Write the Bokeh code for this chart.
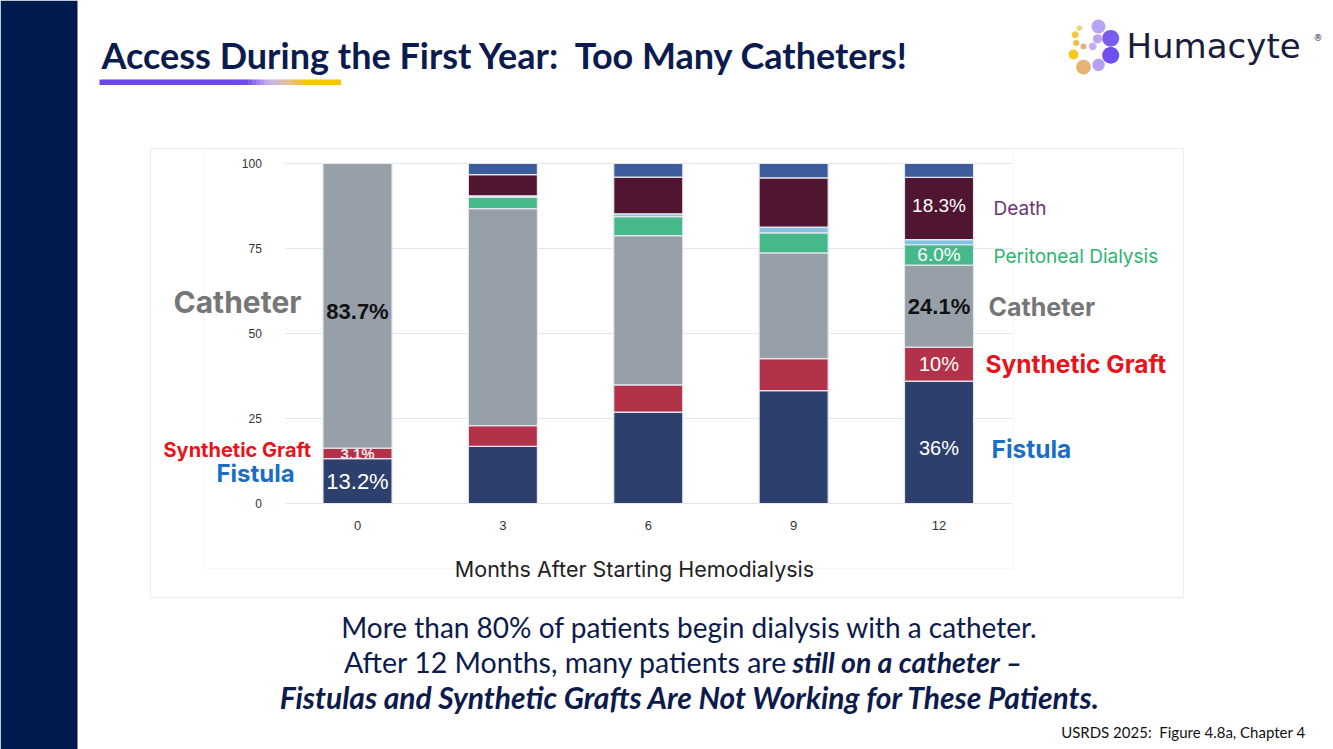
from bokeh.plotting import figure
from bokeh.models import (Range1d, Label, LabelSet, BoxAnnotation, ColumnDataSource, FixedTicker,
                          LinearAxis)
from bokeh.embed import file_html
from bokeh.resources import INLINE
from bokeh.core.properties import value

# ---------------- data ----------------
months = [0, 3, 6, 9, 12]
fistula = [13.2, 16.8, 26.9, 33.2, 36.0]
graft = [3.1, 6.1, 8.0, 9.4, 10.0]
catheter = [83.7, 63.8, 43.9, 31.1, 24.1]
peritoneal = [0.0, 3.4, 5.6, 5.9, 6.0]
transplant = [0.0, 0.4, 0.8, 1.7, 1.5]
death = [0.0, 6.2, 10.8, 14.5, 18.3]
other = [0.0, 3.3, 4.0, 4.2, 4.1]
y_ticks = [0, 25, 50, 75, 100]

series = ["fistula", "graft", "catheter", "peritoneal", "transplant", "death", "other"]
series_colors = ["#2c3f6d", "#b2324a", "#979fa8", "#46b98a", "#86c3e2", "#4f1531", "#3d5c9b"]

W, H = 1333, 749

# whole slide is the frame; page coordinates (pixels, y down) are the default ranges
p = figure(width=W, height=H, title=None, x_axis_type=None, y_axis_type=None,
           x_range=Range1d(0, W), y_range=Range1d(H, 0),
           output_backend="svg", toolbar_location=None, min_border=0)
p.outline_line_color = None
p.background_fill_color = "white"
p.border_fill_color = "white"

# chart scales: months on x, percent on y
PX_PER_MONTH = 48.46
X0_PX = 357.0
x_start = -X0_PX / PX_PER_MONTH
p.extra_x_ranges = {"m": Range1d(x_start, x_start + W / PX_PER_MONTH)}
PX_PER_PCT = 3.4
Y0_PX = 503.0
p.extra_y_ranges = {"pct": Range1d(-(H - Y0_PX) / PX_PER_PCT, Y0_PX / PX_PER_PCT)}

half = (months[1] - months[0]) / 2
# grid lines (drawn from tick values, across the category span)
p.segment(x0=[months[0] - half] * len(y_ticks), x1=[months[-1] + half] * len(y_ticks),
          y0=y_ticks, y1=y_ticks, x_range_name="m", y_range_name="pct",
          line_color="#e3e5ee", line_width=1)

src = ColumnDataSource(dict(months=months, fistula=fistula, graft=graft, catheter=catheter,
                            peritoneal=peritoneal, transplant=transplant, death=death, other=other))
p.vbar_stack(series, x="months", width=0.475 * 2 * half, source=src,
             x_range_name="m", y_range_name="pct",
             fill_color=series_colors, line_color="#e4e8ee", line_width=1.2)

xax = LinearAxis(x_range_name="m", y_range_name="pct", ticker=FixedTicker(ticks=months),
                 fixed_location=0)
yax = LinearAxis(x_range_name="m", y_range_name="pct", ticker=FixedTicker(ticks=y_ticks),
                 fixed_location=months[0] - half)
for ax in (xax, yax):
    ax.axis_line_color = None
    ax.major_tick_line_color = None
    ax.minor_tick_line_color = None
    ax.major_label_text_font = "Liberation Sans"
    ax.major_label_text_color = "#333333"
yax.major_label_text_font_size = "12px"
xax.major_label_text_font_size = "13px"
yax.major_label_standoff = 17
xax.major_label_standoff = 11
p.add_layout(xax, "below")
p.add_layout(yax, "left")


def lab(text, px, py, size, color, font="Lato", style="normal", align="left", baseline="middle"):
    p.add_layout(Label(x=px, y=py, text=text,
                       text_font=font, text_font_size=f"{size}px", text_color=color,
                       text_font_style=style, text_align=align, text_baseline=baseline))


def box(l, t, r, b, fill=None, line=None, lw=1, radius=None):
    kw = dict(left=l, right=r, top=t, bottom=b,
              fill_color=fill, fill_alpha=1.0, line_color=line, line_width=lw, level="annotation")
    if radius is not None:
        kw["border_radius"] = radius
    p.add_layout(BoxAnnotation(**kw))


# ---------------- slide decoration ----------------
box(0, 0, 77, H, fill="#001a4d")

lab("Access During the First Year:\u00a0 Too Many Catheters!", 101, 54, 36, "#0c1b4d",
    font="Lato", style="bold")


def hex2rgb(h):
    return tuple(int(h[i:i + 2], 16) for i in (1, 3, 5))


stops = [(99, "#6b48e8"), (245, "#6b48e8"), (268, "#c8b3ef"), (287, "#e3bf98"), (305, "#f5c518"), (340, "#f7c600")]
n = 60
for i in range(n):
    x0 = 99 + (340 - 99) * i / n
    x1 = 99 + (340 - 99) * (i + 1) / n
    xm = (x0 + x1) / 2
    for (a, ca), (b, cb) in zip(stops[:-1], stops[1:]):
        if a <= xm <= b:
            t = (xm - a) / (b - a)
            ra, rb = hex2rgb(ca), hex2rgb(cb)
            c = "#%02x%02x%02x" % tuple(int(round(ra[k] + (rb[k] - ra[k]) * t)) for k in range(3))
            break
    box(x0, 79, x1 + 0.6, 84.5, fill=c)

# logo
dots = [(1098, 26, 7, "#b9a3f6"), (1079, 27, 2.5, "#f2d36a"), (1075, 33, 3.2, "#f4c842"),
        (1110, 36, 7.5, "#7a5cf0"), (1097, 37, 4.2, "#b8a4f5"), (1076, 42, 2.8, "#f0c040"),
        (1083, 46, 3, "#e0b080"), (1092, 45, 3.6, "#c3b0f3"), (1073, 54, 5, "#f7c81e"),
        (1110, 53, 7.5, "#6f4ff0"), (1083, 64, 6.5, "#e6b472"), (1098, 63, 5.5, "#b4a0f0")]
for cx, cy, r, c in dots:
    try:
        box(cx - r, cy - r, cx + r, cy + r, fill=c, radius=r)
    except Exception:
        lab("\u25cf", cx, cy, int(r * 3), c, font="DejaVu Sans", align="center")
lab("Humacyte", 1126, 45, 34, "#1a1d3c", font="DejaVu Sans")
lab("\u00ae", 1313, 37, 9, "#1a1d3c", font="DejaVu Sans")

# chart image frame
box(203, 149, 1013, 568, fill=None, line="#e4e4e4")
box(150, 148, 1183, 597, fill=None, line="#c4c4c4")

lab("Months After Starting Hemodialysis", 634, 568, 21.5, "#222222", font="Inter", align="center")

# values inside bars (positions from the data)
lx, ly, lt, lsz, lcol, lsty, loff = [], [], [], [], [], [], []


def vlab(i, yv, text, size, color, style="normal", dy=0):
    lx.append(months[i]); ly.append(yv); lt.append(text); lsz.append(f"{size}px")
    lcol.append(color); lsty.append(style); loff.append(dy)


cum0 = [f + g for f, g in zip(fistula, graft)]
vlab(0, fistula[0] / 2, f"{fistula[0]}%", 22, "white")
vlab(0, fistula[0] + graft[0] / 2, f"{graft[0]}%", 15, "#f3e6ea", style="bold")
vlab(0, cum0[0] + catheter[0] / 2, f"{catheter[0]}%", 22, "#111111", style="bold", dy=-6)
vlab(4, fistula[4] / 2, f"{fistula[4]:.0f}%", 20, "white", dy=-6)
vlab(4, fistula[4] + graft[4] / 2, f"{graft[4]:.0f}%", 20, "white")
vlab(4, cum0[4] + catheter[4] / 2, f"{catheter[4]}%", 22, "#111111", style="bold")
c4 = cum0[4] + catheter[4]
vlab(4, c4 + peritoneal[4] / 2, f"{peritoneal[4]:.1f}%", 19, "white")
c4b = c4 + peritoneal[4] + transplant[4]
vlab(4, c4b + death[4] / 2, f"{death[4]}%", 19, "white", dy=3)

lsrc = ColumnDataSource(dict(x=lx, y=ly, text=lt, size=lsz, color=lcol, style=lsty, off=loff))
p.add_layout(LabelSet(x="x", y="y", text="text", y_offset="off", source=lsrc,
                      x_range_name="m", y_range_name="pct",
                      text_font=value("Liberation Sans"), text_font_size="size",
                      text_color="color", text_font_style="style",
                      text_align="center", text_baseline="middle"))

# side annotations
lab("Catheter", 173, 301, 30, "#767676", font="Inter", style="bold")
lab("Synthetic Graft", 163, 449, 20, "#e8131b", font="Inter", style="bold")
lab("Fistula", 216, 473, 24, "#1a6fc4", font="Inter", style="bold")

lab("Death", 993, 208, 19, "#6a3574", font="Inter")
lab("Peritoneal Dialysis", 993, 256, 19, "#2eb36e", font="Inter")
lab("Catheter", 988, 306, 25, "#767676", font="Inter", style="bold")
lab("Synthetic Graft", 985, 363, 24.5, "#e8131b", font="Inter", style="bold")
lab("Fistula", 991, 448, 24.5, "#1a6fc4", font="Inter", style="bold")

# bottom text
navy = "#0d1b4c"
lab("More than 80% of patients begin dialysis with a catheter.", 689, 626, 28, navy, align="center")
lab("After 12 Months, many patients are", 787, 661, 28.5, navy, align="right")
lab("still on a catheter \u2013", 792, 661, 28.5, navy, style="bold italic")
lab("Fistulas and Synthetic Grafts Are Not Working for These Patients.", 690, 696, 30, navy,
    style="bold italic", align="center")
lab("USRDS 2025:\u00a0 Figure 4.8a, Chapter 4", 1305, 731, 15, "#111111", align="right")

open("out.html", "w").write(file_html(p, INLINE))
